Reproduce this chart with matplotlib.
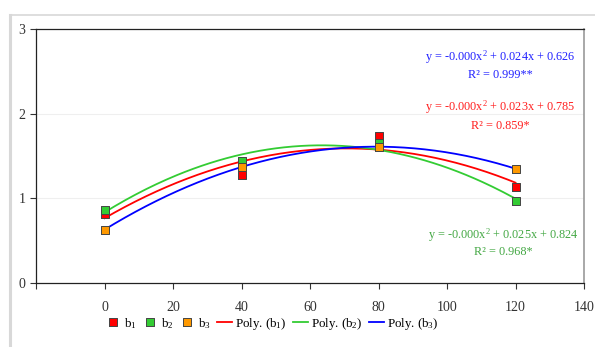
import numpy as np
import matplotlib
matplotlib.use("Agg")
import matplotlib.pyplot as plt
from matplotlib.lines import Line2D

plt.rcParams['font.family'] = ['Liberation Serif', 'DejaVu Serif']
plt.rcParams['mathtext.fontset'] = 'custom'
plt.rcParams['mathtext.rm'] = 'Liberation Serif'
plt.rcParams['mathtext.it'] = 'Liberation Serif'

x_vals = [0, 40, 80, 120]
b1 = [0.82, 1.27, 1.74, 1.13]
b2 = [0.86, 1.44, 1.65, 0.97]
b3 = [0.63, 1.37, 1.61, 1.35]

series_names = ['b$_1$', 'b$_2$', 'b$_3$']
marker_colors = ['#FF0000', '#33CC33', '#FF9900']
line_colors = ['#FF0000', '#33CC33', '#0000FF']
eq_texts = [
    ('y = -0.000x$^2$ + 0.023x + 0.785', 'R² = 0.859*'),
    ('y = -0.000x$^2$ + 0.025x + 0.824', 'R² = 0.968*'),
    ('y = -0.000x$^2$ + 0.024x + 0.626', 'R² = 0.999**'),
]
eq_colors = ['#FF2020', '#44A844', '#2222FF']
eq_pos = [(0.848, 0.693, 0.618), (0.852, 0.189, 0.122), (0.847, 0.89, 0.819)]

rect_marker = [(-0.85, -1), (0.85, -1), (0.85, 1), (-0.85, 1), (-0.85, -1)]

fig = plt.figure(figsize=(5.95, 3.47), dpi=100)
ax = fig.add_axes([36/595, 1-283/347, (584-36)/595, (283-29)/347])

data = [b1, b2, b3]
xs = np.linspace(0, 120, 200)
handles = []
for d, mc in zip(data, marker_colors):
    ax.plot(x_vals, d, linestyle='none', marker=rect_marker, markersize=6,
            markerfacecolor=mc, markeredgecolor='#444444', markeredgewidth=0.7, zorder=3)
for d, lc in zip(data, line_colors):
    c = np.polyfit(x_vals, d, 2)
    ax.plot(xs, np.polyval(c, xs), color=lc, linewidth=1.3, zorder=2)

ax.set_xlim(-20, 140)
ax.set_ylim(0, 3)
ax.set_xticks([-20, 0, 20, 40, 60, 80, 100, 120, 140])
ax.set_xticklabels(['', '0', '20', '40', '60', '80', '100', '120', '140'])
ax.set_yticks([0, 1, 2, 3])
ax.tick_params(axis='both', labelsize=10, colors='#333333', length=4, width=0.8, direction='out')
ax.tick_params(axis='x', pad=9)
for s in ['left', 'bottom', 'top']:
    ax.spines[s].set_color('#222222')
    ax.spines[s].set_linewidth(0.9)
ax.spines['right'].set_color('#999999')
ax.spines['right'].set_linewidth(1.2)
for yv in [1, 2]:
    ax.axhline(yv, color='#EFEFEF', linewidth=0.8, zorder=0)

for (eq, r2), col, (xp, y1, y2) in zip(eq_texts, eq_colors, eq_pos):
    ax.text(xp, y1, eq, transform=ax.transAxes, ha='center', va='center', fontsize=8.8, color=col)
    ax.text(xp, y2, r2, transform=ax.transAxes, ha='center', va='center', fontsize=8.8, color=col)

for name, mc in zip(series_names, marker_colors):
    handles.append(Line2D([], [], linestyle='none', marker=rect_marker, markersize=6,
                          markerfacecolor=mc, markeredgecolor='#444444', markeredgewidth=0.7, label=name))
for name, lc in zip(series_names, line_colors):
    handles.append(Line2D([], [], color=lc, linewidth=1.3, label='Poly. (' + name + ')'))
fig.legend(handles=handles, loc='center', bbox_to_anchor=(0.457, 0.067), ncol=6, frameon=False,
           fontsize=9.3, handlelength=1.2, handletextpad=0.2, columnspacing=0.5, borderpad=0.1)

fig.add_artist(Line2D([10/595, 1], [1-15/347, 1-15/347], transform=fig.transFigure, color='#D8D8D8', linewidth=1.2))
fig.add_artist(Line2D([10/595, 10/595], [0, 1-15/347], transform=fig.transFigure, color='#D8D8D8', linewidth=2.2))

fig.savefig('out.png', dpi=100)
